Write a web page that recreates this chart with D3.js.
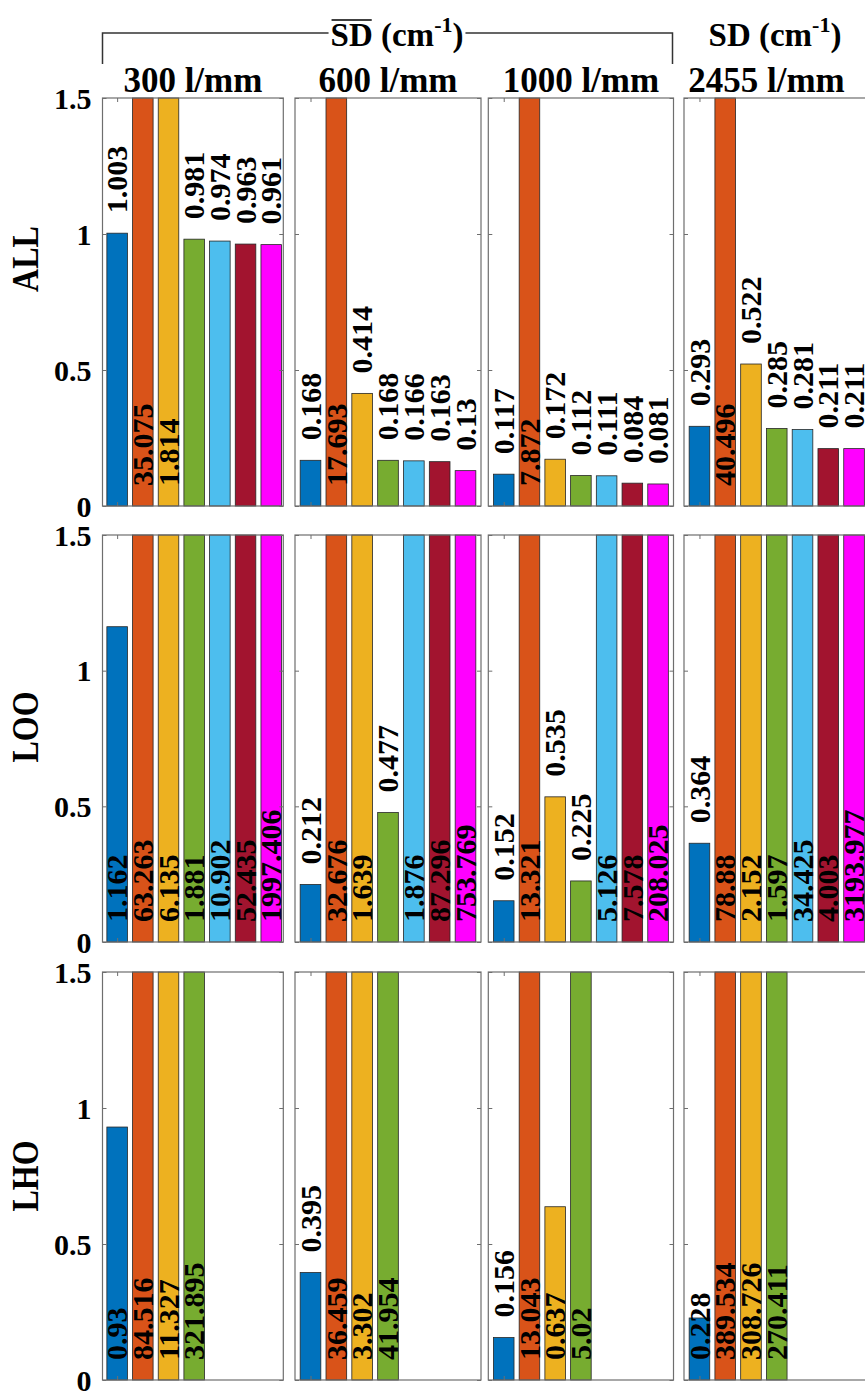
<!DOCTYPE html>
<html>
<head>
<meta charset="utf-8">
<script src="https://cdn.jsdelivr.net/npm/d3@7"></script>
<style>
  body { margin: 0; background: #fff; }
  svg { display: block; }
  text { font-family: "Liberation Serif", "Times New Roman", serif; font-weight: bold; fill: #000; }
</style>
</head>
<body>
<svg id="chart" width="865" height="1393"></svg>
<script>
// ---- data -------------------------------------------------------------
const gratings = ["300 l/mm", "600 l/mm", "1000 l/mm", "2455 l/mm"];
const schemes = ["ALL", "LOO", "LHO"];
const seriesColors = ["#0072BD", "#D95319", "#EDB120", "#77AC30", "#4DBEEE", "#A2142F", "#FF00FF"];
const yTicks = [0, 0.5, 1, 1.5];
const yMax = 1.5;

// one row per grating, one value per model
const valuesALL = [
  [1.003, 35.075, 1.814, 0.981, 0.974, 0.963, 0.961],
  [0.168, 17.693, 0.414, 0.168, 0.166, 0.163, 0.13],
  [0.117, 7.872, 0.172, 0.112, 0.111, 0.084, 0.081],
  [0.293, 40.496, 0.522, 0.285, 0.281, 0.211, 0.211]
];
const valuesLOO = [
  [1.162, 63.263, 6.135, 1.881, 10.902, 52.435, 1997.406],
  [0.212, 32.676, 1.639, 0.477, 1.876, 87.296, 753.769],
  [0.152, 13.321, 0.535, 0.225, 5.126, 7.578, 208.025],
  [0.364, 78.88, 2.152, 1.597, 34.425, 4.003, 3193.977]
];
const valuesLHO = [
  [0.93, 84.516, 11.327, 321.895],
  [0.395, 36.459, 3.302, 41.954],
  [0.156, 13.043, 0.637, 5.02],
  [0.228, 389.534, 308.726, 270.411]
];
// labels written at the foot of the bar although the bar is below the axis limit
// [grating index, model index]
const footLabelsALL = [];
const footLabelsLOO = [[0, 0]];
const footLabelsLHO = [[0, 0], [2, 2], [3, 0]];

const rowValues = [valuesALL, valuesLOO, valuesLHO];
const rowFootLabels = [footLabelsALL, footLabelsLOO, footLabelsLHO];

// ---- layout -------------------------------------------------------------
const cols = [
  { x0: 102.5, x1: 283.3, lo: 0.43, hi: 7.47 },
  { x0: 295.0, x1: 481.0, lo: 0.4, hi: 7.6 },
  { x0: 488.3, x1: 673.5, lo: 0.4, hi: 7.6 },
  { x0: 684.0, x1: 869.5, lo: 0.4, hi: 7.6 }
];
const rows = [
  { top: 98, bottom: 506, labelY: 259 },
  { top: 535, bottom: 942, labelY: 727 },
  { top: 972, bottom: 1380, labelY: 1176 }
];
const barWidthUnits = 0.8;
const labelSize = 30;
const labelGap = 20;

const svg = d3.select("#chart");

// ---- header -------------------------------------------------------------
const header = svg.append("g");
const hdr = header.append("text")
  .attr("x", 397).attr("y", 46)
  .attr("text-anchor", "middle")
  .style("font-size", "33px");
hdr.append("tspan").text("SD");
hdr.append("tspan").text(" (cm");
hdr.append("tspan").attr("dy", -14).style("font-size", "22px").text("-1");
hdr.append("tspan").attr("dy", 14).text(")");

const hnode = hdr.node();
const sdStart = hnode.getStartPositionOfChar(0).x;
const sdEnd = hnode.getEndPositionOfChar(1).x;
header.append("line")
  .attr("x1", sdStart + 1).attr("x2", sdEnd - 1)
  .attr("y1", 20).attr("y2", 20)
  .attr("stroke", "#000").attr("stroke-width", 1.6);

const hb = hnode.getBBox();
const bracket = d3.path();
bracket.moveTo(cols[0].x0, 64);
bracket.lineTo(cols[0].x0, 33);
bracket.lineTo(hb.x - 2, 33);
bracket.moveTo(hb.x + hb.width + 2, 33);
bracket.lineTo(cols[2].x1 - 1, 33);
bracket.lineTo(cols[2].x1 - 1, 64);
header.append("path")
  .attr("d", bracket.toString())
  .attr("fill", "none").attr("stroke", "#333").attr("stroke-width", 1.5);

const hdr2 = header.append("text")
  .attr("x", 775).attr("y", 46)
  .attr("text-anchor", "middle")
  .style("font-size", "33px");
hdr2.append("tspan").text("SD (cm");
hdr2.append("tspan").attr("dy", -14).style("font-size", "22px").text("-1");
hdr2.append("tspan").attr("dy", 14).text(")");

// grating titles
svg.selectAll("text.grating")
  .data(gratings)
  .join("text")
  .attr("class", "grating")
  .attr("x", (d, i) => (cols[i].x0 + Math.min(cols[i].x1, 865)) / 2 + (i === 3 ? -8 : 0))
  .attr("y", 92)
  .attr("text-anchor", "middle")
  .style("font-size", "35px")
  .text(d => d);

// row titles
svg.selectAll("text.scheme")
  .data(schemes)
  .join("text")
  .attr("class", "scheme")
  .attr("transform", (d, i) => `translate(38,${rows[i].labelY}) scale(1.18,1) rotate(-90)`)
  .attr("text-anchor", "middle")
  .style("font-size", "32px")
  .text(d => d);

// ---- panels -------------------------------------------------------------
rows.forEach((row, r) => {
  const y = d3.scaleLinear().domain([0, yMax]).range([row.bottom, row.top]).clamp(true);
  cols.forEach((col, c) => {
    const x = d3.scaleLinear().domain([col.lo, col.hi]).range([col.x0, col.x1]);
    const bw = x(1 + barWidthUnits) - x(1);
    const vals = rowValues[r][c];
    const foot = rowFootLabels[r].filter(p => p[0] === c).map(p => p[1]);
    const g = svg.append("g");

    // bars
    g.selectAll("rect.bar")
      .data(vals)
      .join("rect")
      .attr("class", "bar")
      .attr("x", (d, i) => x(i + 1) - bw / 2)
      .attr("width", bw)
      .attr("y", d => y(d))
      .attr("height", d => y(0) - y(d))
      .attr("fill", (d, i) => seriesColors[i])
      .attr("stroke", "#262626")
      .attr("stroke-width", 0.8);

    // frame
    g.append("rect")
      .attr("x", col.x0).attr("y", row.top)
      .attr("width", col.x1 - col.x0).attr("height", row.bottom - row.top)
      .attr("fill", "none").attr("stroke", "#6e6e6e").attr("stroke-width", 1.2);

    // inward ticks
    const tickStyle = sel => {
      sel.select(".domain").remove();
      sel.selectAll("line").attr("stroke", "#6e6e6e").attr("stroke-width", 1);
    };
    g.append("g").attr("transform", `translate(${col.x0},0)`)
      .call(d3.axisLeft(y).tickValues(yTicks).tickSize(-4).tickFormat(""))
      .call(tickStyle);
    g.append("g").attr("transform", `translate(${col.x1},0)`)
      .call(d3.axisRight(y).tickValues(yTicks).tickSize(-4).tickFormat(""))
      .call(tickStyle);
    g.append("g").attr("transform", `translate(0,${row.bottom})`)
      .call(d3.axisBottom(x).tickValues([1]).tickSize(-4).tickFormat(""))
      .call(tickStyle);
    g.append("g").attr("transform", `translate(0,${row.top})`)
      .call(d3.axisTop(x).tickValues([1]).tickSize(-4).tickFormat(""))
      .call(tickStyle);

    // y tick labels on the first column
    if (c === 0) {
      const ax = g.append("g").attr("transform", `translate(${col.x0},0)`)
        .call(d3.axisLeft(y).tickValues(yTicks).tickSize(0).tickPadding(11).tickFormat(d3.format("")));
      ax.select(".domain").remove();
      ax.selectAll("text")
        .attr("font-family", null).attr("font-size", null)
        .style("font-size", "30px")
        .attr("dy", "0.34em");
    }

    // value labels
    g.selectAll("text.val")
      .data(vals)
      .join("text")
      .attr("class", "val")
      .attr("transform", (d, i) => {
        const atFoot = d >= yMax || foot.includes(i);
        const ty = (atFoot ? y(0) : y(d)) - labelGap;
        return `translate(${x(i + 1)},${ty}) rotate(-90)`;
      })
      .attr("dy", "0.34em")
      .attr("text-anchor", "start")
      .style("font-size", labelSize + "px")
      .text(d => String(d));
  });
});
</script>
</body>
</html>
